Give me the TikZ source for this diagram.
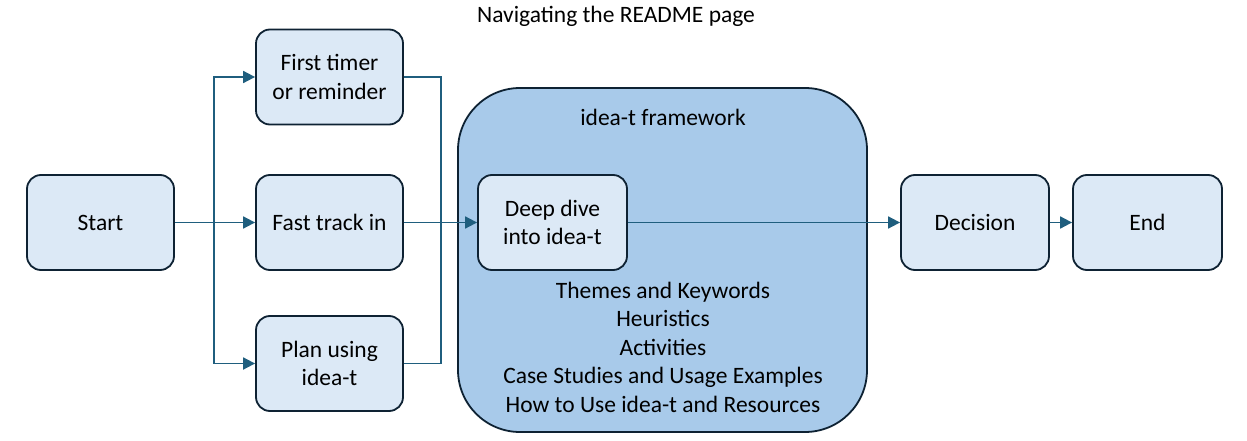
\documentclass[tikz,border=0pt]{standalone}
\usepackage{fontspec}
\setmainfont{Carlito}
\usetikzlibrary{arrows.meta,calc}
\definecolor{boxfill}{HTML}{DCE9F6}
\definecolor{boxline}{HTML}{0E2233}
\definecolor{frfill}{HTML}{A8CAEA}
\definecolor{arrcol}{HTML}{1F5E7E}
\tikzset{
  box/.style={draw=boxline,fill=boxfill,line width=1.8pt,rounded corners=14pt,
    minimum width=147pt,minimum height=95pt,align=center,inner sep=0pt,
    font=\fontsize{23.5}{28.5}\selectfont},
  frame/.style={draw=boxline,fill=frfill,line width=1.8pt,rounded corners=62pt,
    minimum width=409pt,minimum height=344pt,inner sep=0pt},
  txt/.style={align=center,inner sep=0pt,font=\fontsize{23.5}{28.5}\selectfont},
  conn/.style={draw=arrcol,line width=1.8pt},
  arr/.style={conn,-{Triangle[length=12pt,width=12pt]}},
}
\begin{document}
\begin{tikzpicture}[x=1pt,y=-1pt]
\useasboundingbox (0,0) rectangle (1247,441);
\node[txt] (title) at (616,16) {Navigating the README page};
\node[frame] (fw) at (662.5,260) {};
\node[txt] (fwlabel) at (663,117) {idea-t framework};
\node[txt] (list) at (663,347) {Themes and Keywords\\Heuristics\\Activities\\Case Studies and Usage Examples\\How to Use idea-t and Resources};
\node[box] (start) at (100.5,222.5) {Start};
\node[box] (first) at (329.5,77) {First timer\\or reminder};
\node[box] (fast) at (329.5,222.5) {Fast track in};
\node[box] (plan) at (329.5,363.5) {Plan using\\idea-t};
\node[box,minimum width=149pt] (deep) at (552.5,222.5) {Deep dive\\into idea-t};
\node[box,minimum width=148pt] (dec) at (975,222.5) {Decision};
\node[box,minimum width=149pt] (end) at (1147.5,222.5) {End};
\coordinate (br) at (214,222.5);
\coordinate (mg) at (441,222.5);
\draw[arr] (start.east) -- (fast.west);
\draw[arr] (br) |- (first.west);
\draw[arr] (br) |- (plan.west);
\draw[conn] (first.east) -| (mg);
\draw[conn] (plan.east) -| (mg);
\draw[arr] (fast.east) -- (deep.west);
\draw[arr] (deep.east) -- (dec.west);
\draw[arr] (dec.east) -- (end.west);
\end{tikzpicture}
\end{document}
